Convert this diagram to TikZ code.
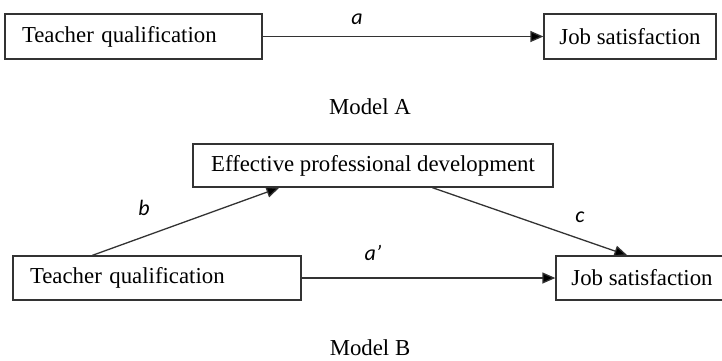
\documentclass[tikz,border=0pt]{standalone}
\usepackage{fontspec}
\setmainfont{Liberation Serif}
\newfontfamily\lblfont{Carlito}
\usetikzlibrary{arrows.meta}
\begin{document}
\begin{tikzpicture}[x=1pt,y=-1pt,
  box/.style={draw=black!80,line width=1.3pt,minimum height=44pt,inner sep=0pt,
    font=\fontsize{22.8}{27}\selectfont},
  lbox/.style={box,align=left,inner xsep=17pt},
  conn/.style={draw=black!80,line width=1.3pt,-{Triangle[length=13pt,width=11pt,fill=black]}},
  coef/.style={font=\lblfont\itshape\fontsize{22}{26}\selectfont,inner sep=0pt},
  modelcaption/.style={font=\fontsize{22.8}{27}\selectfont,inner sep=0pt}]
\useasboundingbox (0,0) rectangle (722,360);
\clip (0,0) rectangle (722,360);
% Model A
\node[lbox,minimum width=257pt,text width=223pt,minimum height=45pt] (tqa) at (133.5,36.5) {Teacher qualification};
\node[box,minimum width=172pt,minimum height=45pt] (jsa) at (630,36.5) {Job satisfaction};
\draw[conn] (tqa.east) -- (jsa.west);
\node[coef] (la) at (357,19) {a};
\node[modelcaption] (ma) at (370,107) {Model A};
% Model B
\node[box,minimum width=360pt,minimum height=43pt] (epd) at (373,165.5) {Effective professional development};
\node[lbox,minimum width=288pt,text width=254pt] (tqb) at (157,278) {Teacher qualification};
\node[box,minimum width=172pt] (jsb) at (642,278) {Job satisfaction};
\draw[conn] (tqb.east) -- (jsb.west);
\draw[conn] ([xshift=80pt]tqb.north west) -- ([xshift=87pt]epd.south west);
\draw[conn] ([xshift=240pt]epd.south west) -- ([xshift=72pt]jsb.north west);
\node[coef] (lap) at (373,253) {a’};
\node[coef] (lb) at (144,208) {b};
\node[coef] (lc) at (580,217) {c};
\node[modelcaption] (mb) at (370,348) {Model B};
\end{tikzpicture}
\end{document}
